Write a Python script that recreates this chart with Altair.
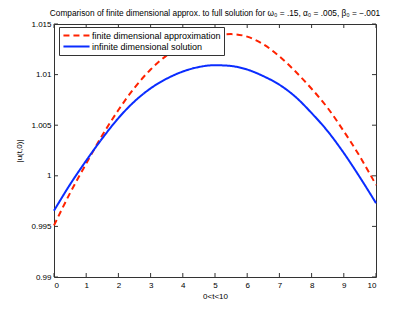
import altair as alt
import pandas as pd

t_vals = [0, 0.5, 1, 1.5, 2, 2.5, 3, 3.5, 4, 4.5, 5, 5.5, 6, 6.5, 7, 7.5, 8, 8.5, 9, 9.5, 10]
finite = [0.99510, 0.99830, 1.00120, 1.00400, 1.00650, 1.00870, 1.01050, 1.01190, 1.01290,
          1.01355, 1.01390, 1.01400, 1.01375, 1.01300, 1.01180, 1.01030, 1.00860, 1.00670,
          1.00440, 1.00190, 0.99910]
infinite = [0.99655, 0.99915, 1.00150, 1.00370, 1.00570, 1.00735, 1.00864, 1.00960, 1.01030,
            1.01075, 1.01093, 1.01085, 1.01050, 1.00985, 1.00900, 1.00780, 1.00620, 1.00440,
            1.00225, 0.99985, 0.99730]
series_names = ["finite dimensional approximation", "infinite dimensional solution"]
x_ticks = [0, 1, 2, 3, 4, 5, 6, 7, 8, 9, 10]
y_ticks = [0.99, 0.995, 1.0, 1.005, 1.01, 1.015]
title_text = "Comparison of finite dimensional approx. to full solution for \u03c9\u2080 = .15, \u03b1\u2080 = .005, \u03b2\u2080 = \u2212.001"

W, H = 322, 253
FONT = "Liberation Sans"

rows = []
for i, t in enumerate(t_vals):
    rows.append({"t": t, "value": finite[i], "series": series_names[0]})
    rows.append({"t": t, "value": infinite[i], "series": series_names[1]})
df = pd.DataFrame(rows)
xt = pd.DataFrame({"t": x_ticks})
yt = pd.DataFrame({"value": y_ticks})

xscale = alt.Scale(domain=[0, 10], nice=False, zero=False)
yscale = alt.Scale(domain=[0.99, 1.015], nice=False, zero=False)
xaxis = alt.Axis(values=x_ticks, title="0<t<10", tickSize=0, domain=False, grid=False,
                 labelPadding=4, titlePadding=3, format="d")
yaxis = alt.Axis(values=y_ticks, title="|u(t,0)|", tickSize=0, domain=False, grid=False,
                 labelPadding=3, titlePadding=7, format=".3~f")
X = alt.X("t:Q", scale=xscale, axis=xaxis)
Y = alt.Y("value:Q", scale=yscale, axis=yaxis)

sym = "M-0.9,0H4.9"
leg = alt.Legend(title=None, symbolType=sym)
lines = alt.Chart(df).mark_line(strokeWidth=2, interpolate="monotone").encode(
    x=X,
    y=Y,
    color=alt.Color("series:N", scale=alt.Scale(domain=series_names, range=["#ff2200", "#0a2cff"]),
                    legend=leg),
    strokeDash=alt.StrokeDash("series:N", scale=alt.Scale(domain=series_names, range=[[6, 4], [1, 0]]),
                              legend=leg),
)

tl = 4
left_ticks = alt.Chart(yt).mark_rule(color="#333", strokeWidth=1).encode(y=Y, x=alt.value(0), x2=alt.value(tl))
right_ticks = alt.Chart(yt).mark_rule(color="#333", strokeWidth=1).encode(y=Y, x=alt.value(W), x2=alt.value(W - tl))
bottom_ticks = alt.Chart(xt).mark_rule(color="#333", strokeWidth=1).encode(x=X, y=alt.value(H), y2=alt.value(H - tl))
top_ticks = alt.Chart(xt).mark_rule(color="#333", strokeWidth=1).encode(x=X, y=alt.value(0), y2=alt.value(tl))

chart = alt.layer(lines, left_ticks, right_ticks, bottom_ticks, top_ticks).properties(
    width=W, height=H,
    title=alt.TitleParams(title_text, fontSize=8.3, font=FONT, fontWeight="normal", color="#000", offset=3),
    autosize=alt.AutoSizeParams(type="none"),
    padding={"left": 46, "top": 16, "right": 31, "bottom": 28},
    background="white",
).configure_view(stroke="#333", strokeWidth=1).configure_axis(
    labelFont=FONT, titleFont=FONT, labelFontSize=8, titleFontSize=8,
    labelColor="#000", titleColor="#000", titleFontWeight="normal",
).configure_legend(
    orient="none", legendX=5, legendY=3, strokeColor="#333", fillColor="white",
    padding=3, labelFont=FONT, labelFontSize=9, labelColor="#000",
    symbolStrokeWidth=2, symbolSize=81, rowPadding=0, labelOffset=19,
    cornerRadius=0,
)

chart.save("out.html", embed_options={"renderer": "svg", "actions": False})
